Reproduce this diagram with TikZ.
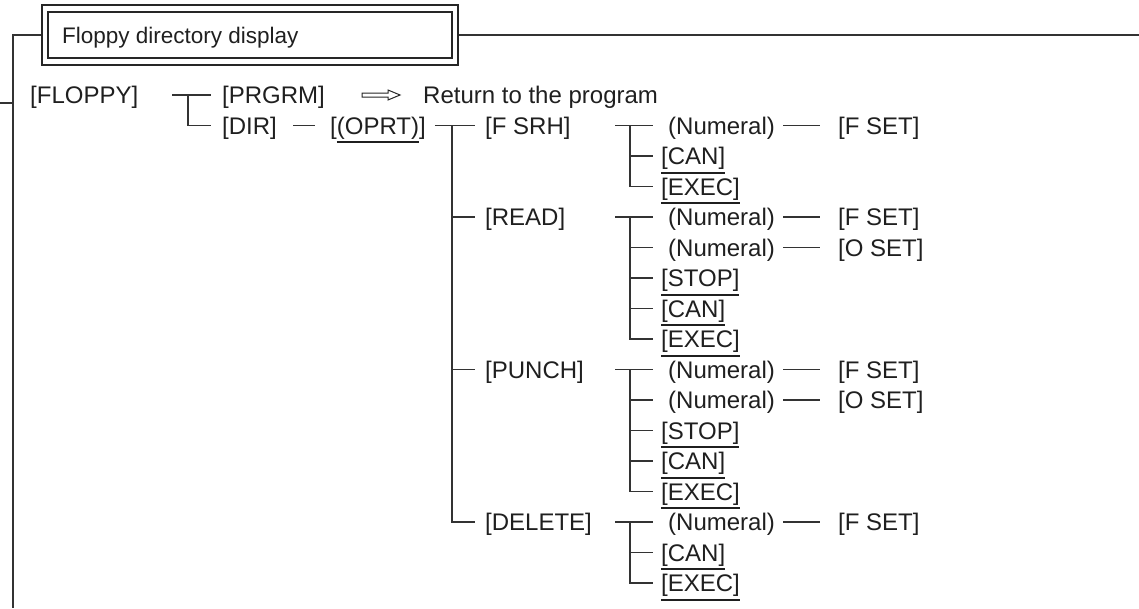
\documentclass[tikz,border=0pt]{standalone}
\usepackage{fontspec}
\setmainfont{Liberation Sans}
\newsavebox\ulsave
% underline a key label with a heavy rule
\newcommand\keyul[1]{\sbox\ulsave{#1}\rlap{\rule[-9pt]{\wd\ulsave}{1.8pt}}\usebox\ulsave}
\begin{document}
\begin{tikzpicture}[x=1pt,y=-1pt,
  ln/.style={draw=black!80, line width=1.3pt},
  lbl/.style={anchor=west, inner sep=0pt, text height=17pt, text depth=0pt,
    text=black!88, font=\fontsize{24}{28}\selectfont},
  ttl/.style={lbl, font=\fontsize{22.5}{27}\selectfont},
]
\useasboundingbox (0,0) rectangle (1139,608);

% ---- title box ----
\node[draw=black!85, line width=2.2pt, minimum width=416pt, minimum height=60pt,
      inner sep=0pt] (titlebox) at (250,35) {};
\draw[draw=black!85, line width=1.3pt] (48,12) rectangle (452,58);
\node[ttl] (title) at (62,35) {Floppy directory display};

% ---- frame ----
\coordinate (frameL) at (13,35);
\coordinate (frameB) at (13,608);
\coordinate (frameR) at (1139,35);
\coordinate (tickL) at (0,103);
\draw[ln] (titlebox.east) -- (frameR);
\draw[ln] (titlebox.west) -- (frameL) -- (frameB);
\draw[ln] (tickL) -- (tickL -| frameL);

% ---- level 0/1 ----
\node[lbl] (floppy) at (30,95) {[FLOPPY]};
\node[lbl] (prgrm) at (222,95) {[PRGRM]};
\node[lbl] (ret) at (423,95) {Return to the program};
\node[lbl] (dir) at (222,125.5) {[DIR]};
\node[lbl] (oprt) at (330,125.5) {[\keyul{(OPRT)}]};

\coordinate (bus0) at (188,0);
\draw[ln] (172,95) -- ([xshift=-11pt]prgrm.west);
\draw[ln] (bus0 |- prgrm.west) |- ([xshift=-11pt]dir.west);
\draw[ln] ([xshift=16pt]dir.east) -- ([xshift=-15pt]oprt.west);

% hollow arrow to the program
\draw[draw=black!85, line width=1pt, fill=white]
  ([xshift=-61pt,yshift=-2pt]ret.west) -- ([xshift=-35pt,yshift=-2pt]ret.west)
  -- ([xshift=-35pt,yshift=-5pt]ret.west) -- ([xshift=-23pt]ret.west)
  -- ([xshift=-35pt,yshift=5pt]ret.west) -- ([xshift=-35pt,yshift=2pt]ret.west)
  -- ([xshift=-61pt,yshift=2pt]ret.west) -- cycle;

% ---- level 2 ----
\node[lbl] (fsrh) at (485,125.5) {[F SRH]};
\node[lbl] (read) at (485,217) {[READ]};
\node[lbl] (punch) at (485,369.5) {[PUNCH]};
\node[lbl] (delete) at (485,522) {[DELETE]};

\coordinate (bus1) at (452,0);
\draw[ln] ([xshift=9pt]oprt.east) -- ([xshift=-10pt]fsrh.west);
\draw[ln] (bus1 |- fsrh.west) |- ([xshift=-10pt]delete.west);
\draw[ln] (bus1 |- read.west) -- ([xshift=-10pt]read.west);
\draw[ln] (bus1 |- punch.west) -- ([xshift=-10pt]punch.west);

% ---- level 3 ----
\coordinate (bus2) at (630,0);
% F SRH
\node[lbl] (n1) at (668,125.5) {(Numeral)};
\node[lbl] (f1) at (838,125.5) {[F SET]};
\node[lbl] (c1) at (661,156) {\keyul{[CAN]}};
\node[lbl] (e1) at (661,186.5) {\keyul{[EXEC]}};
% READ
\node[lbl] (n2) at (668,217) {(Numeral)};
\node[lbl] (f2) at (838,217) {[F SET]};
\node[lbl] (m2) at (668,247.5) {(Numeral)};
\node[lbl] (o2) at (838,247.5) {[O SET]};
\node[lbl] (s2) at (661,278) {\keyul{[STOP]}};
\node[lbl] (c2) at (661,308.5) {\keyul{[CAN]}};
\node[lbl] (e2) at (661,339) {\keyul{[EXEC]}};
% PUNCH
\node[lbl] (n3) at (668,369.5) {(Numeral)};
\node[lbl] (f3) at (838,369.5) {[F SET]};
\node[lbl] (m3) at (668,400) {(Numeral)};
\node[lbl] (o3) at (838,400) {[O SET]};
\node[lbl] (s3) at (661,430.5) {\keyul{[STOP]}};
\node[lbl] (c3) at (661,461) {\keyul{[CAN]}};
\node[lbl] (e3) at (661,491.5) {\keyul{[EXEC]}};
% DELETE
\node[lbl] (n4) at (668,522) {(Numeral)};
\node[lbl] (f4) at (838,522) {[F SET]};
\node[lbl] (c4) at (661,552.5) {\keyul{[CAN]}};
\node[lbl] (e4) at (661,583) {\keyul{[EXEC]}};

% group connectors
\foreach \n/\last in {n1/e1, n2/e2, n3/e3, n4/e4}{
  \draw[ln] ([xshift=-15pt]bus2 |- \n.west) -- ([xshift=-15pt]\n.west);
  \draw[ln] (bus2 |- \n.west) |- ([xshift=-8pt]\last.west);
}
\foreach \k in {c1, m2, s2, c2, m3, s3, c3, c4}{
  \draw[ln] (bus2 |- \k.west) -- (653,0 |- \k.west);
}
\foreach \a/\b in {n1/f1, n2/f2, m2/o2, n3/f3, m3/o3, n4/f4}{
  \draw[ln] ([xshift=8pt]\a.east) -- ([xshift=-18pt]\b.west);
}
\end{tikzpicture}
\end{document}
